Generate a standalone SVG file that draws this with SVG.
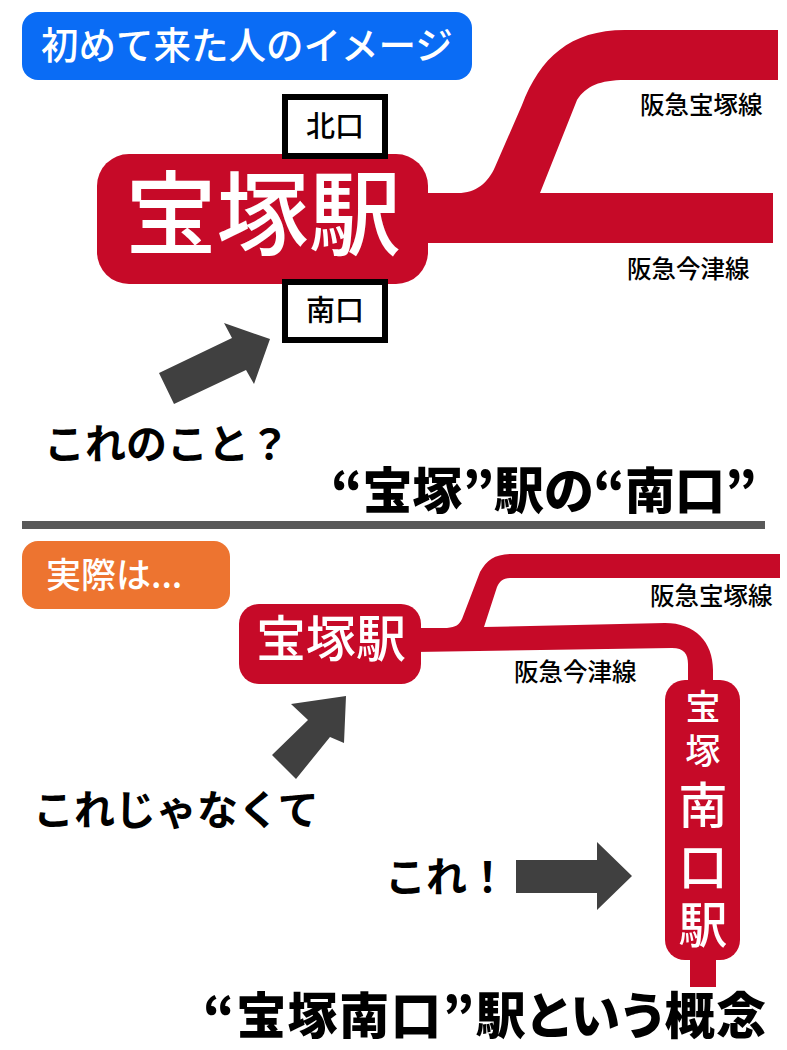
<svg xmlns="http://www.w3.org/2000/svg" width="787" height="1050" viewBox="0 0 787 1050">
<style>
text{font-family:"Noto Sans CJK JP","Noto Sans CJK SC",sans-serif;fill:#000;font-weight:500}
.b{font-weight:900;font-size:50px;font-feature-settings:"palt"}
.w{fill:#fff}
.rail{fill:#c60a28}
.arrow{fill:#404040}
.box{fill:#fff;stroke:#000;stroke-width:6}
.st{fill:#c60a28}
.lab{font-size:24.500px}
.say{font-size:41px;font-weight:700}
</style>
<rect width="787" height="1050" fill="#fff"/>
<g id="connectors">
<path class="rail" d="M420 193H458C476 193 488 183 495 167L522 105C540 58 570 30 625 30H778V80H625C600 80 586 86 577 100L540 193H773V243H420Z"/>
<path class="rail" d="M415 628H447C456 627 459 625 462 619L480 572C487 560 495 554 512 554H780V578H512C503 578 500 581 497 587L484 627L665 623C695 623 713 642 713 670V686H688V664C688 654 684 648 672 648L415 652Z"/>
<rect class="rail" x="690" y="950" width="26" height="37"/>
<polygon class="arrow" points="159,373 232,338 224,323 270,339 254,384 246,370 174,404"/>
<polygon class="arrow" points="272,755 308,720 291,704 346,696 344,743 330,737 296,779"/>
<polygon class="arrow" points="516,860 597,860 597,842 632,876 597,910 597,893 516,893"/>
</g>
<g id="badge-top"><rect x="22" y="12" width="450" height="68" rx="16" fill="#0a6cf5"/><text class="w" x="41" y="59" font-size="37.500">初めて来た人のイメージ</text></g>
<g id="station-top"><rect x="97" y="154" width="331" height="130" rx="32" class="st"/><text class="w" x="125" y="248" font-size="92">宝塚駅</text></g>
<g id="north"><rect class="box" x="285" y="97" width="100" height="59"/><text x="306" y="137" font-size="29">北口</text></g>
<g id="south"><rect class="box" x="285" y="282" width="100" height="58"/><text x="306" y="321" font-size="29">南口</text></g>
<g id="labels-top">
<text class="lab" x="640" y="114">阪急宝塚線</text>
<text class="lab" x="627" y="278">阪急今津線</text>
<text class="say" x="44" y="459">これのこと？</text>
<text class="b" x="331" y="509">“宝塚”駅の“南口”</text>
</g>
<rect id="divider" x="22" y="521" width="743" height="8" fill="#595959"/>
<g id="badge-bottom"><rect x="22" y="541" width="208" height="68" rx="16" fill="#ed7430"/><text class="w" x="46" y="588" font-size="35">実際は...</text></g>
<g id="station-bottom"><rect x="239" y="604" width="182" height="80" rx="20" class="st"/><text class="w" x="256" y="657" font-size="50">宝塚駅</text></g>
<g id="station-south"><rect x="665" y="680" width="75" height="280" rx="20" class="st"/>
<text class="w" text-anchor="middle"><tspan x="703" y="720" font-size="35">宝</tspan><tspan x="703" y="764" font-size="35">塚</tspan><tspan x="703" y="823" font-size="49">南</tspan><tspan x="703" y="885" font-size="49">口</tspan><tspan x="703" y="943" font-size="49">駅</tspan></text></g>
<g id="labels-bottom">
<text class="lab" x="650" y="605">阪急宝塚線</text>
<text class="lab" x="514" y="681">阪急今津線</text>
<text class="say" x="33" y="825">これじゃなくて</text>
<text class="say" x="385" y="892">これ！</text>
<text class="b" x="203" y="1034" letter-spacing="1.600">“宝塚南口”駅という概念</text>
</g>
</svg>
